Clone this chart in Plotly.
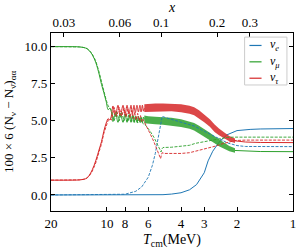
import math
import plotly.graph_objects as go

M_E = 0.511  # MeV, x = m_e / T
T_TICKS = [20, 10, 8, 6, 4, 3, 2, 1]
X_TICKS = [0.03, 0.06, 0.1, 0.2, 0.3]
Y_TICKS = [0, 2.5, 5, 7.5, 10]
Y_TICKTEXT = ["0.0", "2.5", "5.0", "7.5", "10.0"]

BLUE, GREEN, RED = "#1f77b4", "#2ca02c", "#d62728"

# (T [MeV], value)
nue_solid = [(20, 0), (8, 0), (6, 0.0), (5, 0.02), (4.5, 0.06), (4.0, 0.15), (3.6, 0.35),
             (3.3, 0.7), (3.0, 1.5), (2.86, 2.3), (2.7, 2.95), (2.5, 3.55), (2.27, 4.05),
             (2.0, 4.34), (1.7, 4.42), (1.5, 4.45), (1.0, 4.48)]
nue_dash = [(20, 0), (10, 0), (9, 0.01), (8, 0.05), (7, 0.25), (6.5, 0.55), (6.0, 1.2),
            (5.7, 2.0), (5.5, 2.8), (5.3, 3.9), (5.15, 4.8), (5.05, 5.3), (4.8, 5.2),
            (4.4, 5.05), (4.0, 4.9), (3.6, 4.75), (3.4, 4.65), (3.0, 4.3), (2.8, 4.1),
            (2.6, 3.9), (2.4, 3.65), (2.24, 3.5), (2.0, 3.33), (1.8, 3.27), (1.0, 3.26)]

numu_solid = [(20, 10), (16, 10), (14, 9.98), (13, 9.9), (12.5, 9.75), (12, 9.45),
              (11.5, 8.95), (11, 8.1), (10.7, 7.45), (10.4, 6.9), (10.1, 6.3), (9.85, 5.75),
              (9.65, 5.85), (9.45, 5.55), (9.29, 4.95), (9.0, 5.55), (8.73, 4.9), (8.48, 5.5),
              (8.2, 4.9), (8.0, 5.45), (7.8, 4.9), (7.62, 5.4), (7.43, 4.9), (7.3, 5.35),
              (7.16, 4.9), (7.04, 5.3), (6.9, 4.9), (6.78, 5.3), (6.65, 4.9), (6.56, 5.25),
              (6.45, 4.9), (6.37, 5.25), (6.3, 5.1)]
numu_dash = [(20, 10), (16, 10), (14, 9.98), (13, 9.92), (12.5, 9.78), (12, 9.5),
             (11.5, 9.05), (11, 8.25), (10.7, 7.6), (10.4, 7.0), (10.1, 6.4), (9.85, 6.0),
             (9.65, 5.85), (9.45, 5.7), (9.15, 5.0), (8.87, 5.6), (8.6, 5.0), (8.34, 5.55),
             (8.1, 5.0), (7.9, 5.5), (7.71, 4.95), (7.52, 5.45), (7.37, 4.95), (7.23, 5.4),
             (7.1, 4.9), (6.97, 5.3), (6.84, 4.85), (6.71, 5.2), (6.6, 4.85), (6.5, 5.05),
             (6.4, 4.8), (6.2, 4.7), (5.9, 4.35), (5.6, 3.9), (5.35, 3.4), (5.2, 3.1),
             (5.12, 2.9), (5.07, 3.1), (5.0, 3.2), (4.5, 3.22), (4.0, 3.27), (3.6, 3.35),
             (3.35, 3.48), (3.0, 3.6), (2.6, 3.72), (2.24, 3.89), (2.0, 3.9), (1.0, 3.9)]

nutau_solid = [(20, 1.0), (16, 1.0), (14, 1.02), (13, 1.1), (12.5, 1.3), (12, 1.7),
               (11.5, 2.3), (11, 3.1), (10.7, 3.6), (10.4, 4.3), (10.1, 4.85), (9.85, 5.15),
               (9.65, 5.05), (9.45, 5.4), (9.29, 6.0), (9.0, 5.35), (8.73, 6.05), (8.48, 5.35),
               (8.2, 6.05), (8.0, 5.4), (7.8, 6.05), (7.62, 5.45), (7.43, 6.05), (7.3, 5.5),
               (7.16, 6.05), (7.04, 5.55), (6.9, 6.05), (6.78, 5.6), (6.65, 6.05), (6.56, 5.6),
               (6.45, 6.05), (6.37, 5.65), (6.3, 5.85)]
nutau_dash = [(20, 1.0), (16, 1.0), (14, 1.02), (13, 1.08), (12.5, 1.25), (12, 1.6),
              (11.5, 2.15), (11, 2.95), (10.7, 3.45), (10.4, 4.15), (10.1, 4.7), (9.85, 5.05),
              (9.65, 5.15), (9.45, 5.05), (9.15, 5.9), (8.87, 5.3), (8.6, 5.9), (8.34, 5.3),
              (8.1, 5.85), (7.9, 5.25), (7.71, 5.8), (7.52, 5.2), (7.37, 5.7), (7.23, 5.15),
              (7.1, 5.6), (6.97, 5.05), (6.84, 5.5), (6.71, 5.0), (6.6, 5.35), (6.5, 4.95),
              (6.4, 5.1), (6.2, 4.7), (5.9, 4.2), (5.6, 3.6), (5.35, 2.95), (5.2, 2.55),
              (5.15, 2.45), (5.1, 2.7), (5.05, 2.85), (4.9, 2.8), (4.5, 2.78), (4.0, 2.8),
              (3.6, 2.85), (3.2, 3.0), (2.9, 3.15), (2.6, 3.3), (2.4, 3.45), (2.2, 3.6),
              (2.05, 3.67), (1.8, 3.7), (1.0, 3.7)]

# envelopes of the fast-oscillation bands (solid curves)
band_T = [6.3, 6.0, 5.5, 5.0, 4.5, 4.0, 3.6, 3.4, 3.2, 3.0, 2.8, 2.64, 2.5, 2.32, 2.2, 2.05]
tau_hi = [6.12, 6.15, 6.17, 6.17, 6.17, 6.12, 6.02, 5.92, 5.72, 5.44, 5.1, 4.75, 4.48, 4.18, 3.98, 3.8]
tau_lo = [5.6, 5.62, 5.64, 5.64, 5.64, 5.58, 5.48, 5.38, 5.18, 4.9, 4.6, 4.25, 4.02, 3.78, 3.62, 3.5]
mu_hi = [5.36, 5.31, 5.28, 5.26, 5.21, 5.11, 4.98, 4.86, 4.66, 4.45, 4.2, 3.96, 3.75, 3.47, 3.3, 3.15]
mu_lo = [4.84, 4.79, 4.76, 4.74, 4.69, 4.59, 4.46, 4.34, 4.14, 3.91, 3.7, 3.48, 3.29, 3.07, 2.94, 2.85]

tau_tail = [(2.05, 3.65), (1.8, 3.57), (1.5, 3.54), (1.0, 3.53)]
mu_tail = [(2.05, 3.0), (1.8, 2.95), (1.5, 2.93), (1.0, 2.92)]

LEGEND = [("ν", "e", BLUE), ("ν", "μ", GREEN), ("ν", "τ", RED)]


def xy(pairs):
    return [p[0] for p in pairs], [p[1] for p in pairs]


fig = go.Figure()


def line(pairs, color, dash=None, width=1.0, shape="linear"):
    x, y = xy(pairs)
    fig.add_trace(go.Scatter(x=x, y=y, mode="lines", showlegend=False, hoverinfo="skip",
                             line=dict(color=color, width=width, dash=dash, shape=shape)))


def band(hi, lo, color):
    fig.add_trace(go.Scatter(x=band_T + band_T[::-1], y=hi + lo[::-1], mode="lines",
                             fill="toself", fillcolor=color, opacity=0.85,
                             line=dict(width=0, color=color), showlegend=False,
                             hoverinfo="skip"))


DASH = "3px,1.4px"
# solids
line(nue_solid, BLUE)
line(numu_solid, GREEN, shape="spline")
band(mu_hi, mu_lo, GREEN)
line(mu_tail, GREEN)
line(nutau_solid, RED, shape="spline")
band(tau_hi, tau_lo, RED)
line(tau_tail, RED)
# dashed
line(nue_dash, BLUE, dash=DASH, width=0.9)
line(numu_dash, GREEN, dash=DASH, width=0.9)
line(nutau_dash, RED, dash=DASH, width=0.9)

# dummy trace for the top axis
fig.add_trace(go.Scatter(x=[M_E / X_TICKS[0]], y=[None], xaxis="x2", mode="lines",
                         showlegend=False, hoverinfo="skip"))

xr = [math.log10(20), math.log10(1)]
FONT = "Liberation Serif"
axis_common = dict(showline=True, linecolor="black", linewidth=1.2, ticks="inside",
                   ticklen=4, tickwidth=1, tickcolor="black", showgrid=False,
                   zeroline=False, automargin=False,
                   tickfont=dict(family=FONT, size=13, color="black"))

fig.update_layout(
    width=302, height=250,
    margin=dict(l=51, r=9, t=33, b=39),
    plot_bgcolor="white", paper_bgcolor="white",
    xaxis=dict(type="log", range=xr, tickvals=T_TICKS, ticktext=[str(t) for t in T_TICKS],
               **axis_common),
    xaxis2=dict(type="log", range=xr, overlaying="x", side="top", anchor="y",
                tickvals=[M_E / v for v in X_TICKS], ticktext=[str(v) for v in X_TICKS],
                **axis_common),
    yaxis=dict(range=[-1.08, 10.92], tickvals=Y_TICKS, ticktext=Y_TICKTEXT, mirror="ticks",
               **axis_common),
)

# axis titles
fig.add_annotation(xref="paper", yref="paper", x=0.5, y=0, yshift=-29, yanchor="middle",
                   showarrow=False, text="<i>T</i><sub>cm</sub>(MeV)",
                   font=dict(family=FONT, size=14, color="black"))
fig.add_annotation(xref="paper", yref="paper", x=0.5, y=1, yshift=26, yanchor="middle",
                   showarrow=False, text="<i>x</i>",
                   font=dict(family=FONT, size=14, color="black"))
fig.add_annotation(xref="paper", yref="paper", x=0, xshift=-42, y=0.5, xanchor="center",
                   yanchor="middle", textangle=-90, showarrow=False,
                   text="100 × 6 (N<sub>ν</sub> − N<sub>ν̄</sub>)<sub>αα</sub>",
                   font=dict(family=FONT, size=13, color="black"))

# legend box (drawn by hand to match the compact layout)
fig.add_shape(type="rect", xref="paper", yref="paper", x0=0.80, x1=0.975, y0=0.708, y1=0.977,
              line=dict(color="#cccccc", width=1), fillcolor="rgba(255,255,255,0.8)")
for i, (g, s, c) in enumerate(LEGEND):
    yy = 0.93 - i * 0.092
    fig.add_shape(type="line", xref="paper", yref="paper", x0=0.82, x1=0.87, y0=yy, y1=yy,
                  line=dict(color=c, width=1.2))
    fig.add_annotation(xref="paper", yref="paper", x=0.895, y=yy, xanchor="left",
                       yanchor="middle", showarrow=False,
                       text=f"<i>{g}</i><sub><i>{s}</i></sub>",
                       font=dict(family=FONT, size=12, color="black"))

fig.write_html("out.html", config={"displayModeBar": False},
               post_script="document.body.style.margin='0';")
